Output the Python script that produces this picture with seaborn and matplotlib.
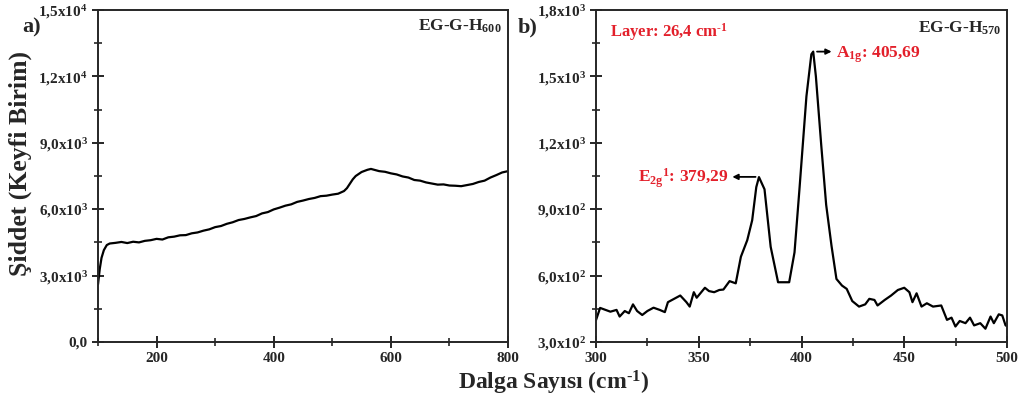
import numpy as np
import pandas as pd
import matplotlib
matplotlib.use("Agg")
import matplotlib.pyplot as plt
from matplotlib.ticker import FixedLocator, FixedFormatter, MultipleLocator
import seaborn as sns

# ---------------- data ----------------
# panel a: EG-G-H600 (wavenumber, intensity)
wn_a = [100, 103, 106, 110, 115, 120, 130, 140, 150, 160, 170, 180, 190, 200,
        210, 220, 230, 240, 250, 260, 270, 280, 290, 300, 310, 320, 330, 340,
        350, 360, 370, 380, 390, 400, 410, 420, 430, 440, 450, 460, 470, 480,
        490, 500, 510, 520, 525, 530, 535, 540, 550, 560, 566, 580, 590, 600,
        610, 620, 630, 640, 650, 660, 670, 680, 690, 700, 710, 720, 730, 740,
        750, 760, 770, 780, 790, 800]
int_a = [2600, 3300, 3800, 4150, 4380, 4450, 4480, 4520, 4470, 4530, 4500, 4570, 4600, 4660,
         4630, 4730, 4760, 4820, 4830, 4910, 4950, 5030, 5090, 5190, 5240, 5340, 5410, 5510,
         5560, 5630, 5690, 5810, 5870, 5990, 6070, 6160, 6220, 6330, 6390, 6460, 6510, 6590,
         6610, 6660, 6700, 6820, 6950, 7150, 7350, 7500, 7680, 7780, 7820, 7720, 7690, 7620,
         7570, 7480, 7430, 7320, 7290, 7210, 7160, 7110, 7120, 7070, 7060, 7040, 7090, 7140,
         7230, 7290, 7430, 7540, 7660, 7720]

# panel b: EG-G-H570 (wavenumber, intensity)
wn_b = [300, 302, 307, 310, 311.5, 314, 316, 318, 320, 322.5, 325, 328, 331, 333.5,
        335, 338, 341, 344, 345.6, 347.6, 349, 353, 355, 357.5, 360, 362, 365, 368,
        370.5, 373.6, 376, 378, 379.3, 382, 385, 388.6, 394, 396.6, 399, 402.4, 404.8,
        405.7, 407, 409.6, 412, 414.6, 417, 419.7, 422, 424.7, 428, 431, 433, 435.5,
        437, 440.5, 443.6, 446.9, 450, 452.5, 454, 456, 458.4, 461, 464, 468, 470.8,
        473, 474.9, 477, 479.8, 482, 484, 487, 489.5, 492, 493.6, 496, 497.7, 499.3, 500]
int_b = [399, 454, 437, 445, 415, 440, 430, 470, 440, 422, 440, 455, 445, 435,
         480, 495, 510, 480, 460, 525, 500, 545, 530, 525, 535, 537, 575, 565,
         685, 760, 850, 1000, 1045, 990, 730, 570, 570, 705, 990, 1410, 1600,
         1612, 1500, 1190, 920, 735, 585, 555, 540, 485, 460, 470, 495, 490,
         465, 490, 510, 535, 545, 525, 480, 520, 460, 475, 460, 465, 400,
         410, 370, 395, 385, 410, 375, 385, 360, 415, 385, 425, 420, 375, 372]

ticks_a_x = [200, 400, 600, 800]
ticks_a_y = [0, 3000, 6000, 9000, 12000, 15000]
labels_a_y = ["0,0", r"3,0x10$^{\mathrm{3}}$", r"6,0x10$^{\mathrm{3}}$", r"9,0x10$^{\mathrm{3}}$",
              r"1,2x10$^{\mathrm{4}}$", r"1,5x10$^{\mathrm{4}}$"]
ticks_b_x = [300, 350, 400, 450, 500]
ticks_b_y = [300, 600, 900, 1200, 1500, 1800]
labels_b_y = [r"3,0x10$^{\mathrm{2}}$", r"6,0x10$^{\mathrm{2}}$", r"9,0x10$^{\mathrm{2}}$",
              r"1,2x10$^{\mathrm{3}}$", r"1,5x10$^{\mathrm{3}}$", r"1,8x10$^{\mathrm{3}}$"]

# ---------------- style ----------------
sns.set_style("ticks")
plt.rcParams["font.family"] = ["Liberation Serif", "DejaVu Serif"]
plt.rcParams["font.weight"] = "bold"
plt.rcParams["mathtext.fontset"] = "custom"
plt.rcParams["mathtext.rm"] = "Liberation Serif:bold"
plt.rcParams["mathtext.it"] = "Liberation Serif:bold:italic"
plt.rcParams["mathtext.bf"] = "Liberation Serif:bold"
plt.rcParams["axes.unicode_minus"] = False

RED = "#e3202b"

fig = plt.figure(figsize=(10.19, 4.00), dpi=100)
ax_a = fig.add_axes([98 / 1019, 58 / 400, 410 / 1019, 332 / 400])
ax_b = fig.add_axes([596 / 1019, 58 / 400, 411 / 1019, 332 / 400])

df_a = pd.DataFrame({"wn": wn_a, "I": int_a})
df_b = pd.DataFrame({"wn": wn_b, "I": int_b})
sns.lineplot(data=df_a, x="wn", y="I", ax=ax_a, color="black", linewidth=1.6, sort=False)
sns.lineplot(data=df_b, x="wn", y="I", ax=ax_b, color="black", linewidth=1.6, sort=False)

def style_axes(ax, xlim, ylim, xt, yt, ylabels, xminor, yminor):
    ax.set_xlim(*xlim)
    ax.set_ylim(*ylim)
    ax.xaxis.set_major_locator(FixedLocator(xt))
    ax.yaxis.set_major_locator(FixedLocator(yt))
    ax.yaxis.set_major_formatter(FixedFormatter(ylabels))
    ax.xaxis.set_minor_locator(MultipleLocator(xminor))
    ax.yaxis.set_minor_locator(MultipleLocator(yminor))
    ax.tick_params(which="major", direction="inout", length=9, width=1.4, labelsize=11, pad=3)
    ax.tick_params(which="minor", direction="inout", length=6, width=1.2)
    ax.set_xlabel("")
    ax.set_ylabel("")
    for s in ax.spines.values():
        s.set_visible(True)
        s.set_linewidth(1.4)
    for lab in ax.get_xticklabels() + ax.get_yticklabels():
        lab.set_fontweight("bold")

style_axes(ax_a, (100, 800), (0, 15000), ticks_a_x, ticks_a_y, labels_a_y, 100, 1500)
style_axes(ax_b, (300, 500), (300, 1800), ticks_b_x, ticks_b_y, labels_b_y, 25, 150)

# sample labels
ax_a.text(0.985, 0.95, r"EG-G-H$_{\mathrm{600}}$", transform=ax_a.transAxes,
          ha="right", va="center", fontsize=12.5, fontweight="bold")
ax_b.text(0.985, 0.945, r"EG-G-H$_{\mathrm{570}}$", transform=ax_b.transAxes,
          ha="right", va="center", fontsize=12.5, fontweight="bold")

# panel letters
fig.text(22 / 1019, 1 - 27 / 400, "a)", fontsize=16, fontweight="bold", ha="left", va="center")
fig.text(518 / 1019, 1 - 27 / 400, "b)", fontsize=16, fontweight="bold", ha="left", va="center")

# axis labels
fig.text(20 / 1019, 1 - 164 / 400, "Şiddet (Keyfi Birim)", rotation=90, fontsize=18.5,
         fontweight="bold", ha="center", va="center")
fig.text(554 / 1019, 1 - 383 / 400, "Dalga Sayısı (cm$^{\\text{-1}}$)", fontsize=17,
         fontweight="bold", ha="center", va="center")

# red annotations
ax_b.text(0.035, 0.935, "Layer: 26,4 cm$^{\\text{-1}}$", transform=ax_b.transAxes,
          color=RED, fontsize=12, fontweight="bold", ha="left", va="center")
ax_b.annotate("", xy=(416, 1612), xytext=(406.2, 1612),
              arrowprops=dict(arrowstyle="-|>", color="black", lw=1.3, mutation_scale=8))
ax_b.text(417, 1600, r"A$_{\mathrm{1g}}$: 405,69", color=RED, fontsize=12.5,
          fontweight="bold", ha="left", va="center")
ax_b.annotate("", xy=(365, 1046), xytext=(379, 1046),
              arrowprops=dict(arrowstyle="-|>", color="black", lw=1.3, mutation_scale=8))
ax_b.text(364.5, 1040, r"E$_{\mathrm{2g}}{}^{\mathrm{1}}$: 379,29", color=RED, fontsize=12.5,
          fontweight="bold", ha="right", va="center")

fig.savefig("out.png", dpi=100)
